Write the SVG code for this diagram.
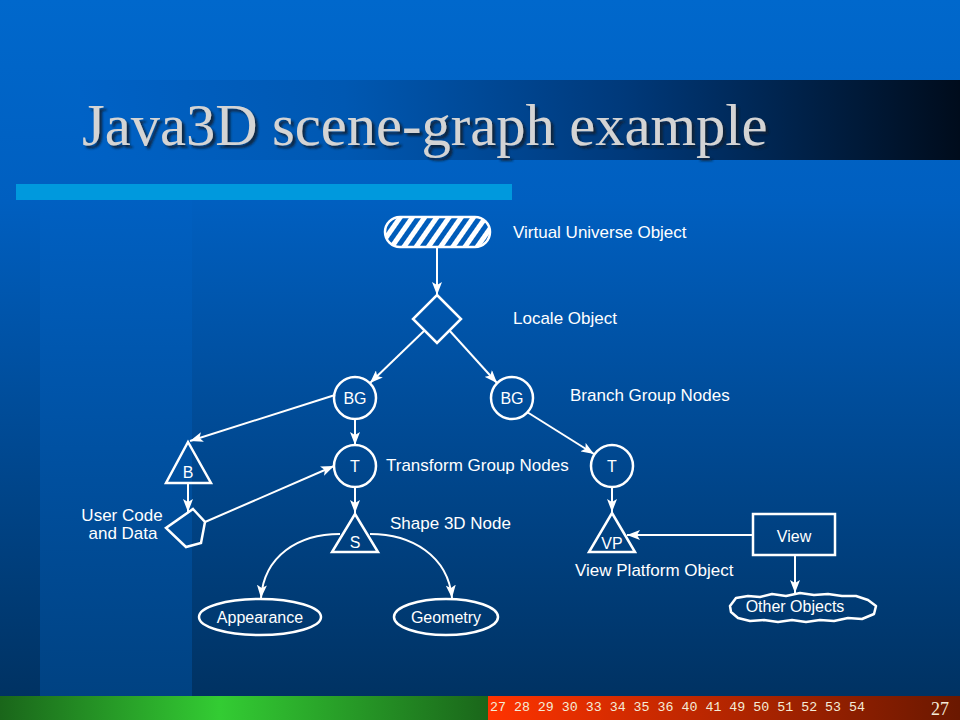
<svg xmlns="http://www.w3.org/2000/svg" width="960" height="720" viewBox="0 0 960 720">
<defs>
<linearGradient id="bg" x1="0" y1="0" x2="0" y2="1">
<stop offset="0" stop-color="#0068cc"/>
<stop offset="0.28" stop-color="#005fc0"/>
<stop offset="1" stop-color="#00305e"/>
</linearGradient>
<linearGradient id="panel" x1="0" y1="0" x2="0" y2="1">
<stop offset="0" stop-color="#0060c2"/>
<stop offset="1" stop-color="#004282"/>
</linearGradient>
<linearGradient id="band" x1="0" y1="0" x2="1" y2="0">
<stop offset="0" stop-color="#0062c6"/>
<stop offset="0.3" stop-color="#0058b2"/>
<stop offset="0.62" stop-color="#00397a"/>
<stop offset="1" stop-color="#000c1c"/>
</linearGradient>
<linearGradient id="green" x1="0" y1="0" x2="1" y2="0">
<stop offset="0" stop-color="#1a661a"/>
<stop offset="0.45" stop-color="#33cc33"/>
<stop offset="1" stop-color="#1a661a"/>
</linearGradient>
<linearGradient id="red" x1="0" y1="0" x2="1" y2="0">
<stop offset="0" stop-color="#ff3300"/>
<stop offset="1" stop-color="#6a1800"/>
</linearGradient>
<pattern id="hatch" patternUnits="userSpaceOnUse" width="10" height="10" patternTransform="rotate(35)">
<rect x="0" y="0" width="5" height="10" fill="#ffffff"/>
</pattern>
<filter id="shadow" x="-5%" y="-20%" width="110%" height="150%">
<feDropShadow dx="3" dy="3" stdDeviation="1" flood-color="#0a1a30" flood-opacity="0.85"/>
</filter>
<marker id="arr" viewBox="0 0 13 10" refX="13" refY="5" markerWidth="13" markerHeight="10" markerUnits="userSpaceOnUse" orient="auto">
<path d="M0,0 L13,5 L0,10 L3,5 z" fill="#ffffff"/>
</marker>
</defs>
<style>
.node{fill:none;stroke:#ffffff;stroke-width:2.5}
.conn{fill:none;stroke:#ffffff;stroke-width:2;marker-end:url(#arr)}
.lbl{font-family:"Liberation Sans",Arial,sans-serif;font-size:17px;fill:#ffffff}
.in{font-family:"Liberation Sans",Arial,sans-serif;font-size:16px;fill:#ffffff;text-anchor:middle}
</style>

<!-- background -->
<rect x="0" y="0" width="960" height="720" fill="url(#bg)"/>
<rect x="40" y="200" width="152" height="496" fill="url(#panel)"/>
<rect x="80" y="80" width="880" height="80" fill="url(#band)"/>
<rect x="16" y="184" width="496" height="16" fill="#0099dd"/>
<text x="82" y="145" font-family="'Liberation Serif','Times New Roman',serif" font-size="58.5" fill="#d4d4d4" filter="url(#shadow)">Java3D scene-graph example</text>

<!-- footer -->
<rect x="0" y="696" width="488" height="24" fill="url(#green)"/>
<rect x="488" y="696" width="472" height="24" fill="url(#red)"/>
<text x="490" y="711" font-family="'Liberation Mono','Courier New',monospace" font-size="12" fill="#f4ecd8" textLength="375" lengthAdjust="spacingAndGlyphs">27 28 29 30 33 34 35 36 40 41 49 50 51 52 53 54</text>
<text x="931" y="715" font-family="'Liberation Serif','Times New Roman',serif" font-size="18" fill="#f4ecd8">27</text>

<!-- connectors -->
<g id="connectors">
<path class="conn" d="M437,247 L437,295"/>
<path class="conn" d="M425,330 L370,383"/>
<path class="conn" d="M449,330 L497,383"/>
<path class="conn" d="M335,395 L190,441"/>
<path class="conn" d="M355,419 L355,445"/>
<path class="conn" d="M188,484 L188,512"/>
<path class="conn" d="M205,522 L334,466"/>
<path class="conn" d="M355,487 L355,513"/>
<path class="conn" d="M340,534 C298,534 264,556 261,598"/>
<path class="conn" d="M370,534 C412,534 448,556 452,598"/>
<path class="conn" d="M527,412 L594,454"/>
<path class="conn" d="M612,487 L612,512"/>
<path class="conn" d="M753,535 L627,535"/>
<path class="conn" d="M795,556 L795,593"/>
</g>

<!-- nodes -->
<g id="virtual-universe">
<rect x="385" y="217" width="105" height="30" rx="15" ry="15" fill="url(#hatch)" stroke="#ffffff" stroke-width="2.5"/>
<text class="lbl" x="513" y="238">Virtual Universe Object</text>
</g>
<g id="locale">
<polygon class="node" points="437,295 461,319 437,343 413,319"/>
<text class="lbl" x="513" y="324">Locale Object</text>
</g>
<g id="bg1">
<circle class="node" cx="355" cy="398" r="21"/>
<text class="in" x="355" y="404">BG</text>
</g>
<g id="bg2">
<circle class="node" cx="512" cy="398" r="21"/>
<text class="in" x="512" y="404">BG</text>
<text class="lbl" x="570" y="401">Branch Group Nodes</text>
</g>
<g id="behavior">
<polygon class="node" points="188,442 211,483 166,483"/>
<text class="in" x="188" y="478">B</text>
</g>
<g id="user-code">
<polygon class="node" points="193,509 205,522 201,543 186,547 166,528"/>
<text class="lbl" x="122" y="521" text-anchor="middle" font-size="14.5">User Code</text>
<text class="lbl" x="123" y="539" text-anchor="middle" font-size="14.5">and Data</text>
</g>
<g id="t1">
<circle class="node" cx="355" cy="466" r="21"/>
<text class="in" x="355" y="472">T</text>
<text class="lbl" x="386" y="471">Transform Group Nodes</text>
</g>
<g id="shape">
<polygon class="node" points="355,514 378,552 332,552"/>
<text class="in" x="355" y="548">S</text>
<text class="lbl" x="390" y="529">Shape 3D Node</text>
</g>
<g id="appearance">
<ellipse class="node" cx="260" cy="617" rx="61" ry="18"/>
<text class="in" x="260" y="623" font-size="17">Appearance</text>
</g>
<g id="geometry">
<ellipse class="node" cx="446" cy="617" rx="52" ry="18"/>
<text class="in" x="446" y="623" font-size="17">Geometry</text>
</g>
<g id="t2">
<circle class="node" cx="612" cy="466" r="21"/>
<text class="in" x="612" y="472">T</text>
</g>
<g id="view-platform">
<polygon class="node" points="612,513 635,552 589,552"/>
<text class="in" x="612" y="549" font-size="17">VP</text>
<text class="lbl" x="575" y="576">View Platform Object</text>
</g>
<g id="view">
<rect class="node" x="753" y="514" width="82" height="41"/>
<text class="in" x="794" y="542" font-size="17">View</text>
</g>
<g id="other-objects">
<path class="node" stroke-linejoin="round" d="M730,606 L736,598 L748,596 L760,597 L772,594 L786,596 L800,593 L814,595 L828,594 L842,596 L856,596 L868,600 L876,606 L874,614 L862,619 L848,618 L834,621 L820,620 L806,622 L792,620 L778,622 L764,620 L750,621 L738,618 L731,612 Z"/>
<text class="in" x="795" y="612" font-size="17">Other Objects</text>
</g>
</svg>
